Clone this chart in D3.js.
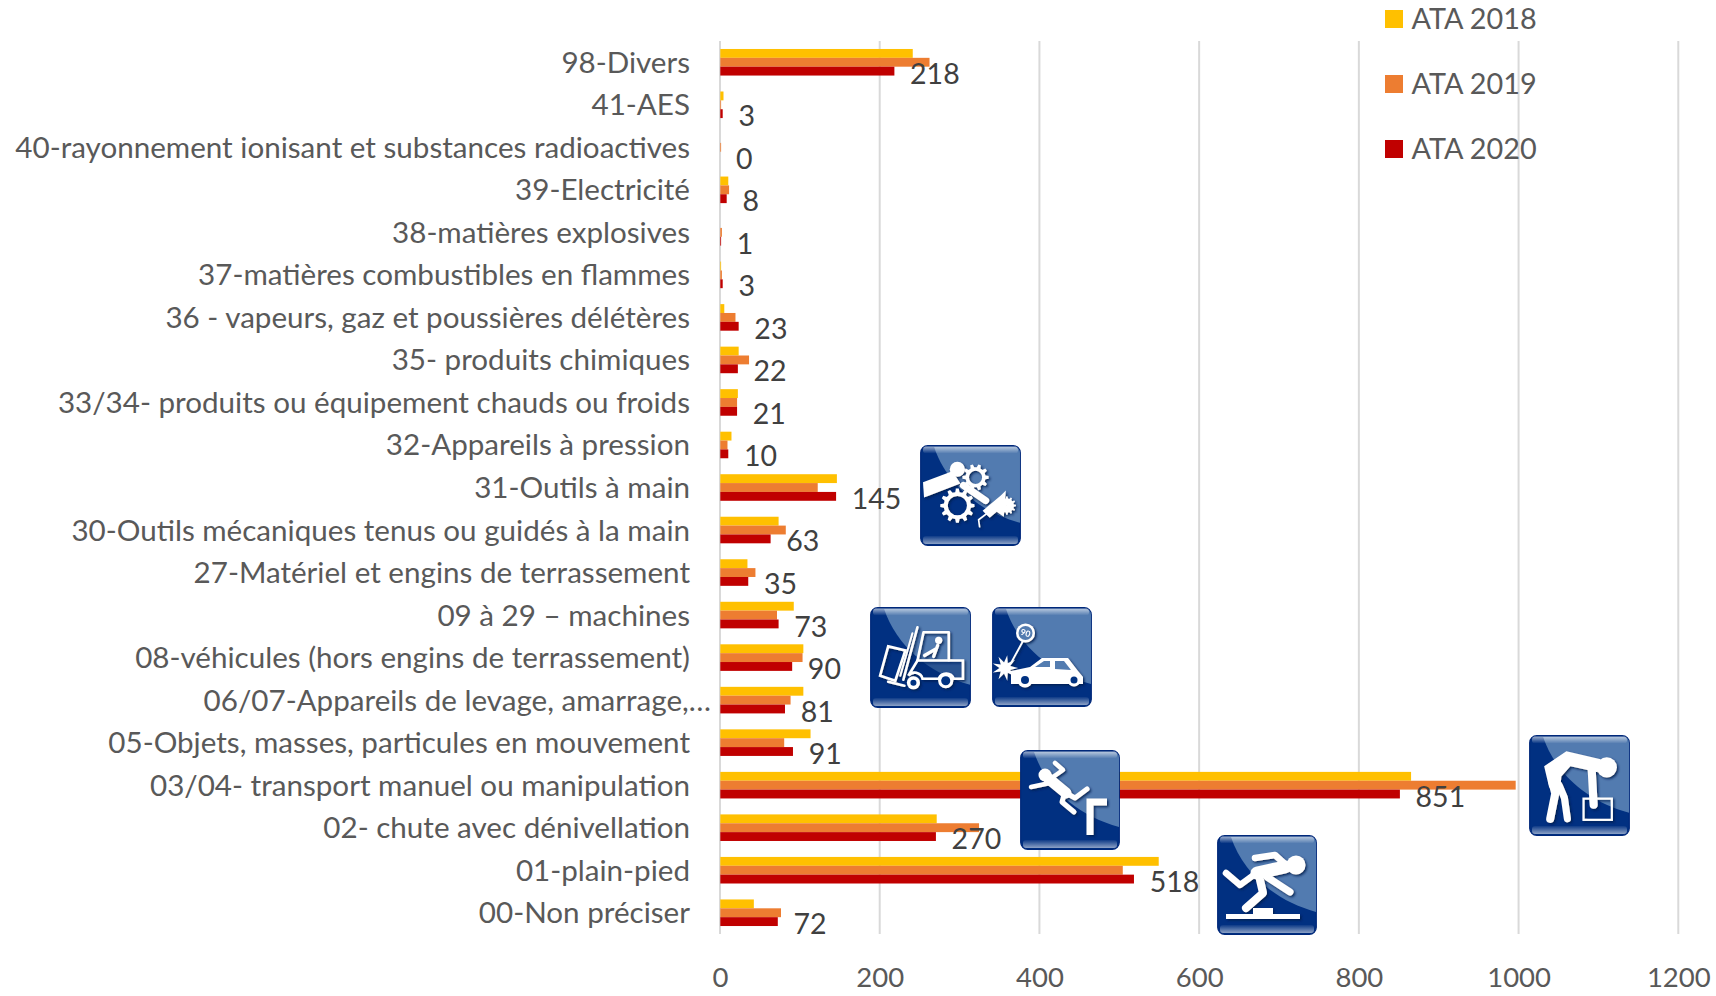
<!DOCTYPE html>
<html>
<head>
<meta charset="utf-8">
<script src="https://cdn.jsdelivr.net/npm/d3@7"></script>
<style>
  body { margin: 0; background: #fff; }
  text { font-family: Lato, "Open Sans", sans-serif; }
</style>
</head>
<body>
<svg id="chart"></svg>
<script>
// values, top row first
const categories = [
  "98-Divers", "41-AES", "40-rayonnement ionisant et substances radioactives",
  "39-Electricité", "38-matières explosives", "37-matières combustibles en flammes",
  "36 - vapeurs, gaz et poussières délétères", "35- produits chimiques",
  "33/34- produits ou équipement chauds ou froids", "32-Appareils à pression",
  "31-Outils à main", "30-Outils mécaniques tenus ou guidés à la main",
  "27-Matériel et engins de terrassement", "09 à 29 – machines",
  "08-véhicules (hors engins de terrassement)", "06/07-Appareils de levage, amarrage,…",
  "05-Objets, masses, particules en mouvement", "03/04- transport manuel ou manipulation",
  "02- chute avec dénivellation", "01-plain-pied", "00-Non préciser"
];
const ata2018 = [241, 4, 0, 10, 0, 1, 5, 23, 22, 14, 146, 73, 34, 92, 104, 104, 113, 865, 271, 549, 42];
const ata2019 = [262, 1, 1, 11, 2, 2, 19, 36, 21, 9, 122, 82, 44, 71, 103, 88, 80, 996, 324, 504, 76];
const ata2020 = [218, 3, 0, 8, 1, 3, 23, 22, 21, 10, 145, 63, 35, 73, 90, 81, 91, 851, 270, 518, 72];
const seriesNames = ["ATA 2018", "ATA 2019", "ATA 2020"];
const seriesColors = ["#ffc000", "#ed7d31", "#c00000"];
const xTicks = [0, 200, 400, 600, 800, 1000, 1200];

const width = 1716;
const height = 996;
const marginTop = 41;
const marginRight = 37.7;
const marginBottom = 62;
const marginLeft = 720;

const svg = d3.select("#chart")
  .attr("width", width)
  .attr("height", height)
  .attr("viewBox", [0, 0, width, height])
  .style("display", "block");

const x = d3.scaleLinear([0, 1200], [marginLeft, width - marginRight]);
const y = d3.scaleBand(categories, [marginTop, height - marginBottom]);
const yInner = d3.scaleBand(seriesNames, [0, y.bandwidth()]).paddingOuter(0.9);

// shared defs for the icons
const defs = svg.append("defs");
const shadow = defs.append("filter").attr("id", "iconShadow")
  .attr("x", "-20%").attr("y", "-20%").attr("width", "140%").attr("height", "140%");
shadow.append("feDropShadow")
  .attr("dx", 1.5).attr("dy", 1.5).attr("stdDeviation", 1)
  .attr("flood-color", "#001c50").attr("flood-opacity", 0.9);
const topSheen = defs.append("linearGradient").attr("id", "topSheen")
  .attr("x1", 0).attr("y1", 0).attr("x2", 0).attr("y2", 1);
topSheen.append("stop").attr("offset", 0).attr("stop-color", "#fff").attr("stop-opacity", 0.6);
topSheen.append("stop").attr("offset", 1).attr("stop-color", "#fff").attr("stop-opacity", 0);
const bottomSheen = defs.append("linearGradient").attr("id", "bottomSheen")
  .attr("x1", 0).attr("y1", 0).attr("x2", 0).attr("y2", 1);
bottomSheen.append("stop").attr("offset", 0).attr("stop-color", "#fff").attr("stop-opacity", 0.05);
bottomSheen.append("stop").attr("offset", 1).attr("stop-color", "#fff").attr("stop-opacity", 0.55);

// grid
svg.append("g")
  .selectAll("line")
  .data(xTicks)
  .join("line")
  .attr("x1", d => x(d))
  .attr("x2", d => x(d))
  .attr("y1", marginTop)
  .attr("y2", height - marginBottom)
  .attr("stroke", "#d9d9d9")
  .attr("stroke-width", 2);

// x axis labels
svg.append("g")
  .attr("transform", `translate(0,${height - marginBottom})`)
  .call(d3.axisBottom(x).tickValues(xTicks).tickFormat(d3.format("d")).tickSize(0).tickPadding(33))
  .call(g => g.select(".domain").remove())
  .call(g => g.selectAll("text")
    .attr("fill", "#595959")
    .attr("font-size", 27.5)
    .style("font-family", "Lato"));

// bars
[ata2018, ata2019, ata2020].forEach((values, s) => {
  svg.append("g")
    .attr("fill", seriesColors[s])
    .selectAll("rect")
    .data(values)
    .join("rect")
    .attr("x", x(0) + 0.3)
    .attr("y", (d, i) => y(categories[i]) + yInner(seriesNames[s]))
    .attr("width", d => x(d) - x(0))
    .attr("height", yInner.bandwidth());
});

// category labels
svg.append("g")
  .attr("transform", `translate(${marginLeft},1)`)
  .call(d3.axisLeft(y).tickSize(0).tickPadding(30))
  .call(g => g.select(".domain").remove())
  .call(g => g.selectAll("text")
    .attr("fill", "#595959")
    .attr("font-size", 29.6)
    .style("font-family", "Lato")
    // the truncated label runs right up to the axis
    .attr("dx", d => d.endsWith("…") ? 21 : 0));

// values of the last series
svg.append("g")
  .selectAll("text")
  .data(ata2020)
  .join("text")
  .attr("x", d => x(d) + 16)
  .attr("y", (d, i) => y(categories[i]) + y.bandwidth() / 2 + 11.5)
  .attr("dy", "0.35em")
  .attr("fill", "#404040")
  .attr("font-size", 28.5)
  .text(d => d);

// legend
const legend = svg.append("g")
  .selectAll("g")
  .data(seriesNames)
  .join("g")
  .attr("transform", (d, i) => `translate(1385,${10 + i * 65})`);
legend.append("rect")
  .attr("width", 18)
  .attr("height", 18)
  .attr("fill", (d, i) => seriesColors[i]);
legend.append("text")
  .attr("x", 26.5)
  .attr("y", 9)
  .attr("dy", "0.35em")
  .attr("fill", "#595959")
  .attr("font-size", 28.8)
  .text(d => d);

// --- icons, drawn in a 100x100 box ---
function gearPath(cx, cy, outer, inner, hole, teeth) {
  const pts = [];
  const step = Math.PI * 2 / teeth;
  for (let i = 0; i < teeth; i++) {
    const a = i * step;
    pts.push([a - step * 0.3, inner], [a - step * 0.16, outer], [a + step * 0.16, outer], [a + step * 0.3, inner]);
  }
  const ring = pts.map(([a, r]) => `${cx + r * Math.cos(a)},${cy + r * Math.sin(a)}`).join("L");
  return `M${ring}Z M${cx + hole},${cy} A${hole},${hole} 0 1 0 ${cx - hole},${cy} A${hole},${hole} 0 1 0 ${cx + hole},${cy}Z`;
}

function starPath(cx, cy, outer, inner, spikes) {
  const pts = d3.range(spikes * 2).map(i => {
    const r = i % 2 ? inner : outer;
    const a = i * Math.PI / spikes;
    return `${cx + r * Math.cos(a)},${cy + r * Math.sin(a)}`;
  });
  return `M${pts.join("L")}Z`;
}

function iconTile(px, py, size) {
  const g = svg.append("g").attr("transform", `translate(${px},${py}) scale(${size / 100})`);
  g.append("rect").attr("x", 0.7).attr("y", 0.7).attr("width", 98.6).attr("height", 98.6)
    .attr("rx", 7).attr("fill", "#013081").attr("stroke", "#00287a").attr("stroke-width", 1.2);
  g.append("path").attr("d", "M14,2 C26,38 58,66 99,77 L99,8 Q99,2 93,2 Z").attr("fill", "#527bb0");
  g.append("rect").attr("x", 3).attr("y", 1.5).attr("width", 94).attr("height", 7)
    .attr("rx", 3).attr("fill", "url(#topSheen)");
  g.append("rect").attr("x", 3).attr("y", 90).attr("width", 94).attr("height", 8)
    .attr("rx", 3).attr("fill", "url(#bottomSheen)");
  return g.append("g").attr("filter", "url(#iconShadow)");
}

function limb(g, d, w) {
  g.append("path").attr("d", d).attr("fill", "none").attr("stroke", "#fff")
    .attr("stroke-width", w).attr("stroke-linecap", "round").attr("stroke-linejoin", "round");
}
function solid(g, d) {
  return g.append("path").attr("d", d).attr("fill", "#fff").attr("fill-rule", "evenodd");
}
function dot(g, cx, cy, r, fill = "#fff") {
  return g.append("circle").attr("cx", cx).attr("cy", cy).attr("r", r).attr("fill", fill);
}

// hand tools
const tools = iconTile(920, 445, 101);
solid(tools, "M3,37 L32,26 L40,38 L4,52 Z");
dot(tools, 37, 24, 7.5);
solid(tools, gearPath(55, 32, 13, 10, 6.5, 10));
limb(tools, "M43,40 L65,55", 7);
solid(tools, gearPath(37, 60, 17, 13.5, 9.5, 12));
solid(tools, "M62,65 L80,50 L85,45 L83,71 L76,66 L69,72 Z");
solid(tools, gearPath(86, 60, 9, 7, 0.1, 12));
limb(tools, "M66,68 L58,74 L59,81", 1.6);

// forklift
const forklift = iconTile(870, 607, 101);
limb(forklift, "M47,20 L33,72", 2.5);
limb(forklift, "M42,26 L30,68", 2);
forklift.append("path").attr("d", "M18,39 L35,43 L25,73 L10,68 Z")
  .attr("fill", "none").attr("stroke", "#fff").attr("stroke-width", 2.6);
limb(forklift, "M18,74 L34,78", 2.6);
limb(forklift, "M53,25 L78,25 L78,53 M53,25 L47,53", 2.6);
forklift.append("path").attr("d", "M47,53 L92,53 L92,71 L83,71 A8,8 0 0 0 68,71 L52,71 A8,8 0 0 0 38,68 Z")
  .attr("fill", "#013081").attr("fill-opacity", 0.3).attr("stroke", "#fff").attr("stroke-width", 2.6);
dot(forklift, 68, 33, 3.6);
limb(forklift, "M67,38 L63,49 M66,41 L54,48", 3.2);
dot(forklift, 43, 75, 6.5);
dot(forklift, 43, 75, 3, "#013081");
dot(forklift, 75, 73, 7.5);
dot(forklift, 75, 73, 4.5, "#013081");

// car accident
const car = iconTile(992, 607, 100);
limb(car, "M31,34 L19,56", 1.8);
dot(car, 33.5, 26, 9.5);
dot(car, 33.5, 26, 7, "#527bb0");
car.append("text").attr("x", 33.5).attr("y", 29).attr("text-anchor", "middle")
  .attr("font-size", 8.5).attr("font-weight", 700).attr("fill", "#fff")
  .attr("transform", "rotate(15 33.5 26)").text("90");
solid(car, starPath(13, 61, 13, 5.5, 9));
solid(car, "M19,64 L38,60 L50,51 L76,51 L86,64 L91,70 L91,77 L19,77 Z");
car.append("path").attr("d", "M43,60 L52,54 L58,54 L58,60 Z M63,54 L72,54 L79,63 L63,62 Z").attr("fill", "#527bb0");
dot(car, 33, 73, 7.5);
dot(car, 33, 73, 4, "#013081");
dot(car, 82, 73, 6.5);
dot(car, 82, 73, 3.5, "#013081");

// fall from height
const fall = iconTile(1020, 750, 100);
dot(fall, 25, 25, 6.5);
limb(fall, "M29,29 L46,43", 11);
limb(fall, "M33,27 L43,20 L35,13", 4.5);
limb(fall, "M30,33 L11,37", 4.5);
limb(fall, "M46,43 L55,48 L67,39", 5);
limb(fall, "M44,45 L42,52 L54,62", 5);
fall.append("path").attr("d", "M87,52 L70,52 L70,85").attr("fill", "none")
  .attr("stroke", "#fff").attr("stroke-width", 7);

// manual handling
const lift = iconTile(1529, 735, 101);
dot(lift, 77, 32, 10);
solid(lift, "M15,31 L37,16 L71,24 L68,37 L41,31 L32,41 L31,55 L20,52 Z");
limb(lift, "M23,46 L26,58 L21,83", 8);
limb(lift, "M30,50 L35,62 L38,83", 7);
limb(lift, "M62,33 L64,69", 8);
lift.append("rect").attr("x", 54).attr("y", 63).attr("width", 28).attr("height", 21)
  .attr("fill", "none").attr("stroke", "#fff").attr("stroke-width", 2.2);

// trip on the level
const trip = iconTile(1217, 835, 100);
dot(trip, 79, 30, 9.5);
limb(trip, "M68,32 L40,38", 13);
limb(trip, "M38,23 L58,20 L69,30", 6.5);
limb(trip, "M9,38 L23,50 L38,39", 6.5);
limb(trip, "M43,45 L46,58 L29,73", 8);
limb(trip, "M50,42 L73,57", 7);
trip.append("path").attr("d", "M9,79 L36,79 L36,73 L56,73 L56,79 L83,79 L83,84 L9,84 Z").attr("fill", "#fff");
</script>
</body>
</html>
